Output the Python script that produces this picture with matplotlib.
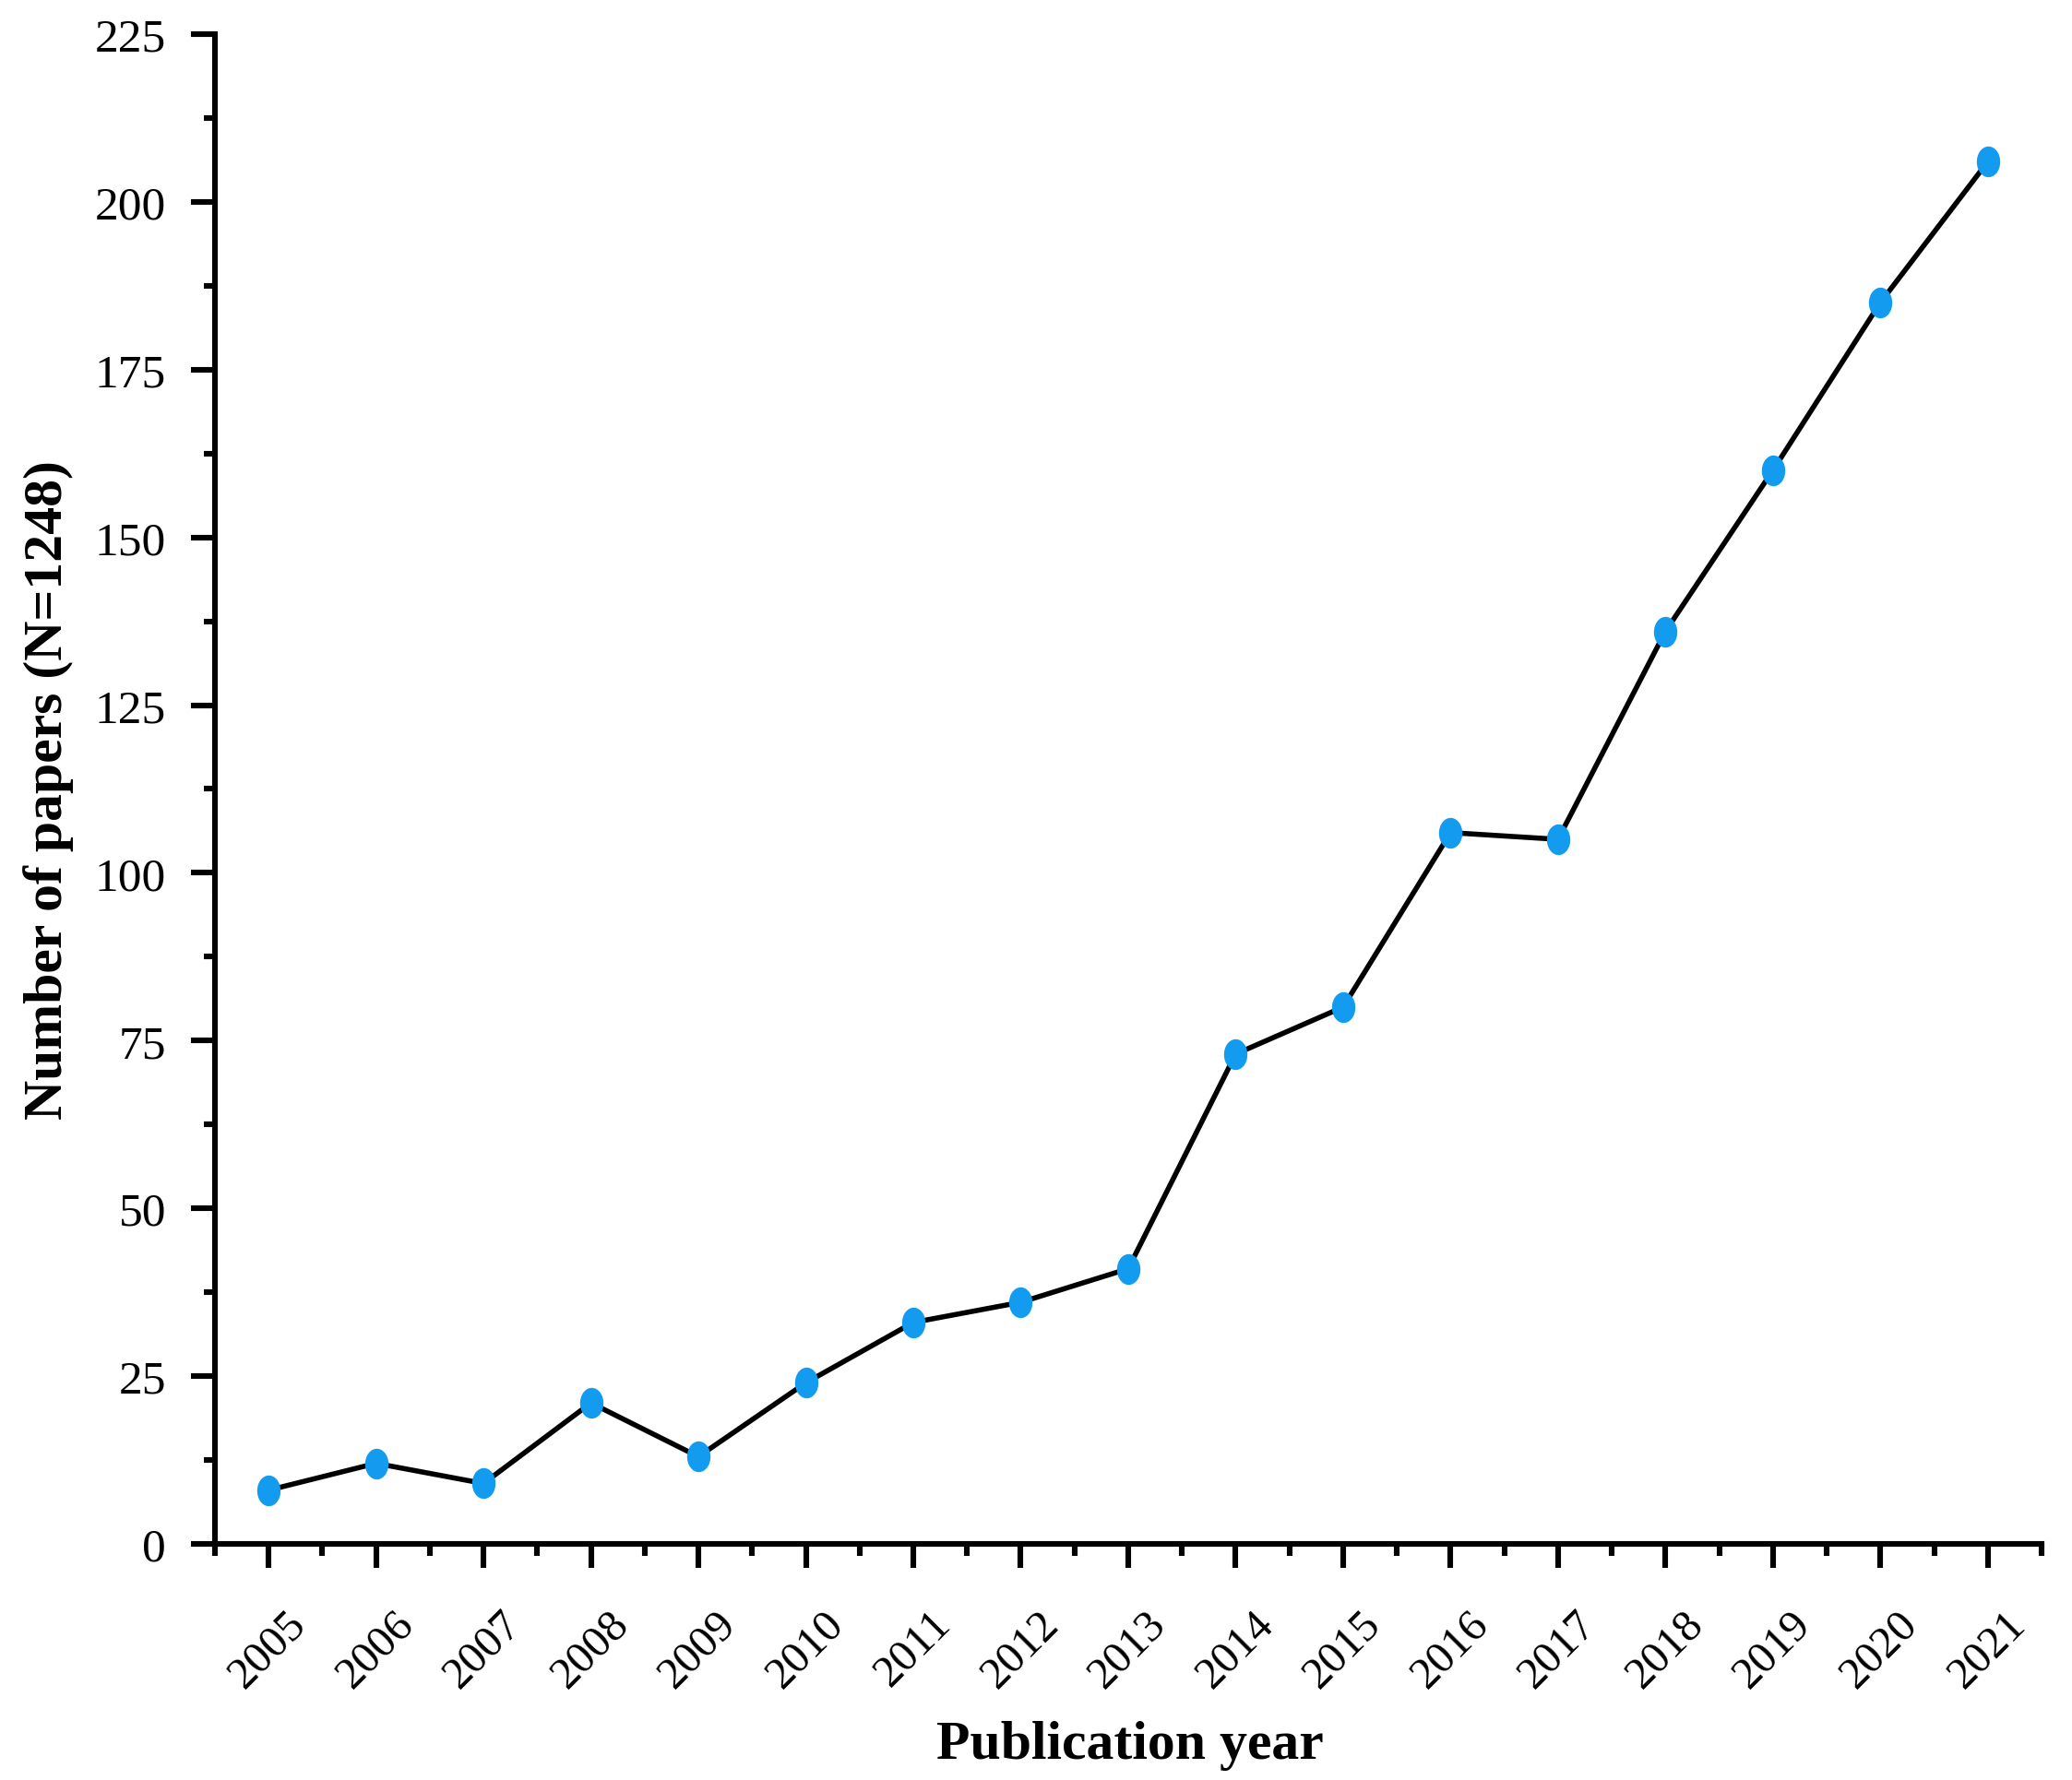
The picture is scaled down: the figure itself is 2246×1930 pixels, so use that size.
import matplotlib
matplotlib.use('Agg')
import matplotlib.pyplot as plt
from matplotlib.ticker import MultipleLocator
from matplotlib.path import Path
from matplotlib.transforms import Affine2D

plt.rcParams['font.family'] = ['Liberation Serif', 'DejaVu Serif']

years = [2005, 2006, 2007, 2008, 2009, 2010, 2011, 2012, 2013,
         2014, 2015, 2016, 2017, 2018, 2019, 2020, 2021]
papers = [8, 12, 9, 21, 13, 24, 33, 36, 41,
          73, 80, 106, 105, 136, 160, 185, 206]
y_ticks = [0, 25, 50, 75, 100, 125, 150, 175, 200, 225]

# markers in the original are slightly taller than wide
oval = Affine2D().scale(0.75, 1.0).transform_path(Path.unit_circle())

fig = plt.figure(figsize=(22.46, 19.31), dpi=100)
ax = fig.add_axes([0.1037, 0.1326, 0.8816, 0.8477])

ax.plot(years, papers, color='black', linewidth=4, zorder=2)
ax.plot(years, papers, linestyle='none', marker=oval, markersize=23,
        markerfacecolor='#129BEF', markeredgecolor='#129BEF', zorder=3)

ax.set_xlim(2004.5, 2021.5)
ax.set_ylim(0, 225)
ax.set_xticks(years)
ax.set_xticklabels([str(y) for y in years], rotation=45, ha='center', fontsize=35)
ax.xaxis.set_minor_locator(MultipleLocator(0.5))
ax.set_yticks(y_ticks)
ax.set_yticklabels([str(v) for v in y_ticks], fontsize=37)
ax.yaxis.set_minor_locator(MultipleLocator(12.5))

for side in ['top', 'right']:
    ax.spines[side].set_visible(False)
for side in ['left', 'bottom']:
    ax.spines[side].set_linewidth(4.4)

ax.tick_params(axis='both', which='major', direction='out', length=19, width=4.4)
ax.tick_params(axis='both', which='minor', direction='out', length=9, width=4.4)
ax.tick_params(axis='x', which='major', pad=27)
ax.tick_params(axis='y', which='major', pad=19)

ax.set_xlabel('Publication year', fontsize=43, fontweight='bold')
ax.xaxis.set_label_coords(0.501, -0.133)
ax.xaxis.label.set_va('center')
ax.set_ylabel('Number of papers (N=1248)', fontsize=43, fontweight='bold')
ax.yaxis.set_label_coords(-0.0912, 0.5)
ax.yaxis.label.set_va('center')

fig.savefig('out.png', dpi=100, facecolor='white')
